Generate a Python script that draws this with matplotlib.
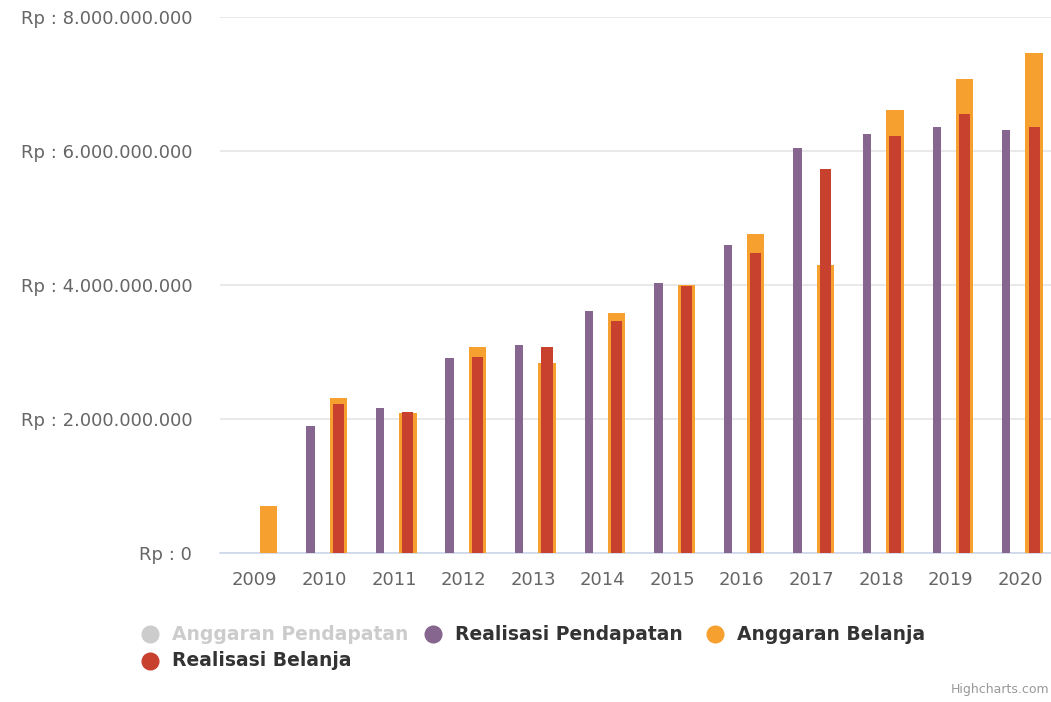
import numpy as np
import matplotlib
matplotlib.use("Agg")
import matplotlib.pyplot as plt
from matplotlib.ticker import FuncFormatter
from matplotlib.lines import Line2D

# data (Rupiah)
years = ["2009", "2010", "2011", "2012", "2013", "2014",
         "2015", "2016", "2017", "2018", "2019", "2020"]
realisasi_pendapatan = [0, 1.90e9, 2.16e9, 2.91e9, 3.10e9, 3.61e9,
                        4.03e9, 4.60e9, 6.04e9, 6.25e9, 6.36e9, 6.31e9]
anggaran_belanja = [0.70e9, 2.32e9, 2.09e9, 3.08e9, 2.84e9, 3.58e9,
                    4.00e9, 4.76e9, 4.30e9, 6.62e9, 7.08e9, 7.46e9]
realisasi_belanja = [0, 2.23e9, 2.11e9, 2.93e9, 3.08e9, 3.47e9,
                     3.99e9, 4.48e9, 5.73e9, 6.22e9, 6.55e9, 6.36e9]
y_ticks = [0, 2e9, 4e9, 6e9, 8e9]

legend_names = ["Anggaran Pendapatan", "Realisasi Pendapatan",
                "Anggaran Belanja", "Realisasi Belanja"]

c_hidden = "#cccccc"
c_purple = "#86658f"
c_orange = "#f5a02f"
c_red = "#c8412f"

fig = plt.figure(figsize=(10.51, 7.02), dpi=100)
ax = fig.add_axes([220 / 1051, 1 - 553.3 / 702, 835 / 1051, 536.3 / 702])

x = np.arange(len(years))
ax.bar(x - 0.2, realisasi_pendapatan, width=0.12, color=c_purple, zorder=3)
ax.bar(x + 0.2, anggaran_belanja, width=0.25, color=c_orange, zorder=3)
ax.bar(x + 0.2, realisasi_belanja, width=0.16, color=c_red, zorder=4)

ax.set_xlim(-0.5, len(years) - 0.5)
ax.set_ylim(0, 8e9)
ax.set_xticks(x)
ax.set_xticklabels(years)
ax.set_yticks(y_ticks)


def rp(v, pos):
    return "Rp : " + f"{int(round(v)):,}".replace(",", ".")


ax.yaxis.set_major_formatter(FuncFormatter(rp))
ax.tick_params(axis="y", length=0, pad=20, labelsize=13, labelcolor="#666666")
ax.tick_params(axis="x", length=0, pad=13, labelsize=13, labelcolor="#666666")

ax.grid(axis="y", color="#e9e9e9", linewidth=1.5, zorder=0)
for s in ["top", "right", "left"]:
    ax.spines[s].set_visible(False)
ax.spines["bottom"].set_color("#ccd6eb")
ax.spines["bottom"].set_linewidth(1.2)

# legend drawn by hand, two rows like the original
legend_items = [
    (legend_names[0], c_hidden, "#cccccc", 150, 634),
    (legend_names[1], c_purple, "#333333", 433, 634),
    (legend_names[2], c_orange, "#333333", 715, 634),
    (legend_names[3], c_red, "#333333", 150, 661),
]
for name, col, tcol, px, py in legend_items:
    fx, fy = px / 1051, 1 - py / 702
    fig.add_artist(Line2D([fx], [fy], marker="o", markersize=12,
                          color=col, linestyle="none",
                          transform=fig.transFigure))
    fig.text(fx + 22 / 1051, fy, name, fontsize=13.5, fontweight="bold",
             color=tcol, va="center", ha="left")

fig.text(1049 / 1051, 1 - 690 / 702, "Highcharts.com", fontsize=9,
         color="#999999", ha="right", va="center")

fig.savefig("out.png", dpi=100, facecolor="white")
